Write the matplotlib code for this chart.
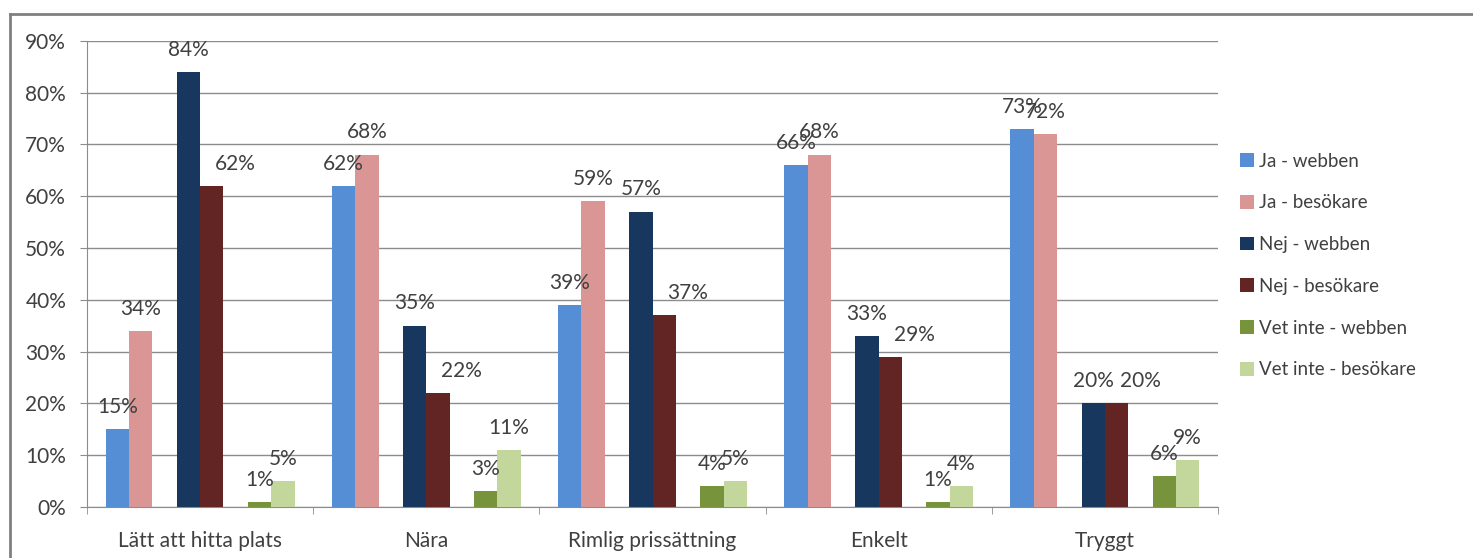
import matplotlib.pyplot as plt
import matplotlib.lines as mlines
import numpy as np

plt.rcParams['font.family'] = ['Lato', 'DejaVu Sans']

categories = ['Lätt att hitta plats', 'Nära', 'Rimlig prissättning', 'Enkelt', 'Tryggt']
series = ['Ja - webben', 'Ja - besökare', 'Nej - webben', 'Nej - besökare',
          'Vet inte - webben', 'Vet inte - besökare']
ja_webben = [15, 62, 39, 66, 73]
ja_besokare = [34, 68, 59, 68, 72]
nej_webben = [84, 35, 57, 33, 20]
nej_besokare = [62, 22, 37, 29, 20]
vet_inte_webben = [1, 3, 4, 1, 6]
vet_inte_besokare = [5, 11, 5, 4, 9]

colors = ['#558ED5', '#D99694', '#17375E', '#632523', '#77933C', '#C3D69B']
values = [ja_webben, ja_besokare, nej_webben, nej_besokare, vet_inte_webben, vet_inte_besokare]
txt = '#404040'

fig = plt.figure(figsize=(14.73, 5.58), dpi=100)
ax = fig.add_axes([87 / 1473, 51 / 558, (1218 - 87) / 1473, (507 - 40.7) / 558])

x = np.arange(len(categories))
w = 0.1034
pair = 0.314
offsets = [-pair - w / 2, -pair + w / 2, -w / 2, w / 2, pair - w / 2, pair + w / 2]
# the "Nej - besökare" labels sit a bit to the right of their bars
label_dx = [0, 0, 0, 17, 0, 0]

for vals, name, col, off, dx in zip(values, series, colors, offsets, label_dx):
    ax.bar(x + off, vals, width=w, color=col, label=name, zorder=3)
    for xi, v in zip(x, vals):
        ax.annotate(f'{v}%', (xi + off, v), xytext=(dx, 16), textcoords='offset points',
                    ha='center', va='center', fontsize=15, color=txt, zorder=4)

ax.set_xlim(-0.5, len(categories) - 0.5)
ax.set_ylim(0, 90)
ax.set_yticks(range(0, 91, 10))
ax.set_yticklabels([f'{t}%' for t in range(0, 91, 10)])
ax.yaxis.grid(True, color='#8c8c8c', linewidth=1)
ax.set_axisbelow(True)

ax.set_xticks(x)
ax.set_xticklabels(categories)
ax.set_xticks(np.arange(-0.5, len(categories), 1), minor=True)
ax.tick_params(axis='x', which='major', length=0, pad=17, labelsize=15, labelcolor=txt)
ax.tick_params(axis='x', which='minor', length=5, color='#8c8c8c', direction='out')
ax.tick_params(axis='y', length=5, color='#8c8c8c', pad=10, labelsize=15, labelcolor=txt)

for s in ['top', 'right']:
    ax.spines[s].set_visible(False)
for s in ['left', 'bottom']:
    ax.spines[s].set_color('#8c8c8c')

fig.legend(loc='upper left', bbox_to_anchor=(1232 / 1473, 1 - 145 / 558), frameon=False,
           fontsize=13.5, handlelength=0.75, handleheight=0.75, handletextpad=0.3,
           labelspacing=1.32, labelcolor=txt, borderaxespad=0)

# outer chart frame (top and left edges)
fig.add_artist(mlines.Line2D([10 / 1473, 1], [1 - 14 / 558, 1 - 14 / 558],
                             color='#808080', linewidth=2, transform=fig.transFigure))
fig.add_artist(mlines.Line2D([10 / 1473, 10 / 1473], [0, 1 - 14 / 558],
                             color='#808080', linewidth=2, transform=fig.transFigure))

fig.savefig('out.png', dpi=100)
